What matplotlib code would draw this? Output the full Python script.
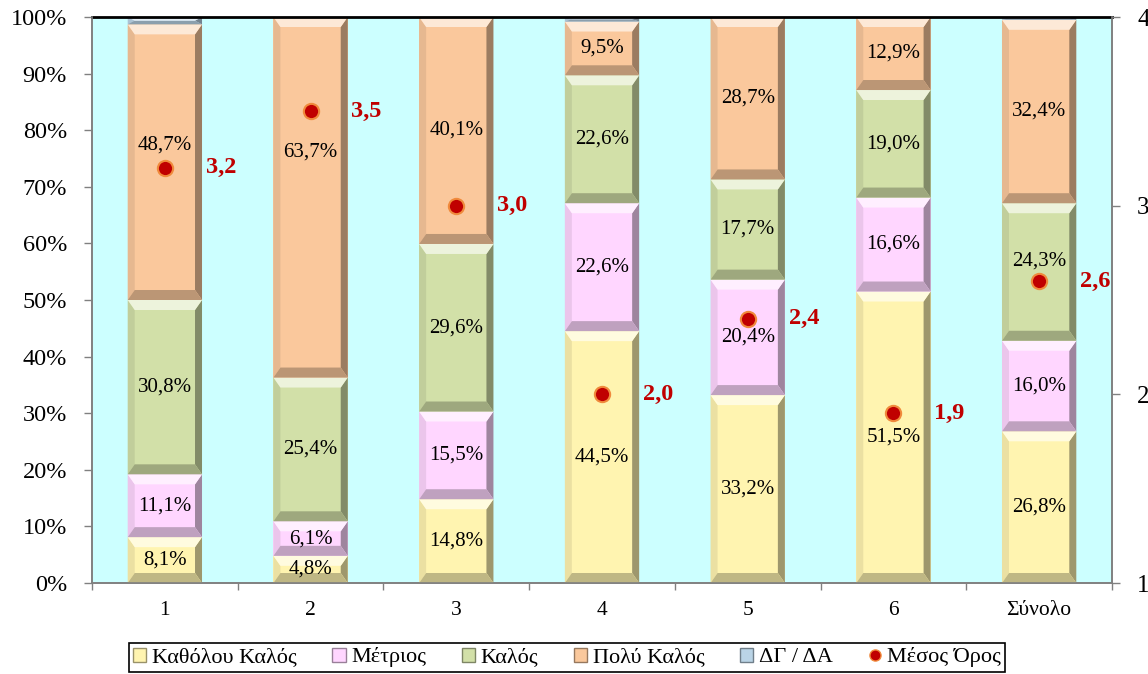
import numpy as np
import matplotlib.pyplot as plt
from matplotlib.patches import Polygon, Patch
from matplotlib.lines import Line2D
from matplotlib.colors import to_rgb

plt.rcParams['font.family'] = ['Liberation Serif', 'DejaVu Serif']

# Données
groupes = ["1", "2", "3", "4", "5", "6", "Σύνολο"]
series = ["Καθόλου Καλός", "Μέτριος", "Καλός", "Πολύ Καλός", "ΔΓ / ΔΑ"]
katholou = [8.1, 4.8, 14.8, 44.5, 33.2, 51.5, 26.8]
metrios = [11.1, 6.1, 15.5, 22.6, 20.4, 16.6, 16.0]
kalos = [30.8, 25.4, 29.6, 22.6, 17.7, 19.0, 24.3]
poly_kalos = [48.7, 63.7, 40.1, 9.5, 28.7, 12.9, 32.4]
dg_da = [1.3, 0.0, 0.0, 0.8, 0.0, 0.0, 0.5]
mesos_oros = [3.2, 3.5, 3.0, 2.0, 2.4, 1.9, 2.6]

couleurs = ["#FFF4B0", "#FFD6FF", "#D2E0A8", "#FAC89C", "#BAD4E6"]
bg = "#CCFFFF"
rouge = "#C00000"

# décalage manuel de quelques étiquettes (en %)
decalage = {(0, 3): 3.0, (1, 3): 8.0, (6, 2): 2.0}

W, H = 1148, 674
fig = plt.figure(figsize=(W / 100, H / 100), dpi=100)
ax = fig.add_axes([92 / W, 91 / H, 1020 / W, 566 / H])
ax.set_facecolor(bg)
ax.set_xlim(-0.5, len(groupes) - 0.5)
ax.set_ylim(0, 100)

x = np.arange(len(groupes))
largeur = 0.51
# taille du biseau en unités de données
bx = 7 / (1020 / len(groupes))
by = 10 / 5.66


def melange(c, autre, t):
    c = np.array(to_rgb(c))
    return tuple(c * (1 - t) + np.array(autre) * t)


def biseau(x0, y0, w, h, c):
    if h <= 0:
        return
    bh = min(by, h / 2)
    bw = min(bx, w / 2)
    x1, y1 = x0 + w, y0 + h
    faces = [
        ([(x0, y0), (x0, y1), (x0 + bw, y1 - bh), (x0 + bw, y0 + bh)], melange(c, (0, 0, 0), 0.08)),
        ([(x1, y0), (x1, y1), (x1 - bw, y1 - bh), (x1 - bw, y0 + bh)], melange(c, (0, 0, 0), 0.38)),
        ([(x0, y0), (x1, y0), (x1 - bw, y0 + bh), (x0 + bw, y0 + bh)], melange(c, (0, 0, 0), 0.25)),
        ([(x0, y1), (x1, y1), (x1 - bw, y1 - bh), (x0 + bw, y1 - bh)], melange(c, (1, 1, 1), 0.6)),
    ]
    for pts, fc in faces:
        ax.add_patch(Polygon(pts, closed=True, facecolor=fc, edgecolor="none", zorder=3))


donnees = [katholou, metrios, kalos, poly_kalos, dg_da]
bas = np.zeros(len(groupes))
for s, (vals, c) in enumerate(zip(donnees, couleurs)):
    vals = np.array(vals)
    barres = ax.bar(x, vals, largeur, bottom=bas, color=c, edgecolor="none", zorder=2)
    for i, b in enumerate(barres):
        biseau(b.get_x(), b.get_y(), b.get_width(), b.get_height(), c)
        if s < 4 and vals[i] > 0:
            yl = bas[i] + vals[i] / 2 + decalage.get((i, s), 0)
            ax.text(x[i], yl, f"{vals[i]:.1f}".replace(".", ",") + "%",
                    ha="center", va="center", fontsize=15, zorder=5)
    bas += vals

# axes
ax.set_yticks(np.arange(0, 101, 10))
ax.set_yticklabels([f"{v}%" for v in range(0, 101, 10)], fontsize=17.5)
ax.tick_params(axis="y", length=6, width=1, color="#808080", pad=12)
ax.set_xticks(x)
ax.set_xticklabels(groupes, fontsize=15.5)
ax.tick_params(axis="x", which="major", length=0, pad=13)
ax.set_xticks(np.arange(-0.5, len(groupes), 1), minor=True)
ax.tick_params(axis="x", which="minor", length=5, width=1, color="#808080")
for sp in ["left", "bottom", "right"]:
    ax.spines[sp].set_color("#808080")
    ax.spines[sp].set_linewidth(1.2)
ax.spines["top"].set_color("black")
ax.spines["top"].set_linewidth(2)
ax.spines["top"].set_zorder(6)

ax2 = ax.twinx()
ax2.set_ylim(1, 4)
ax2.set_yticks([1, 2, 3, 4])
ax2.set_yticklabels(["1", "2", "3", "4"], fontsize=18)
ax2.tick_params(axis="y", length=6, width=1, color="#808080", pad=12)
for sp in ["left", "bottom", "right"]:
    ax2.spines[sp].set_color("#808080")
    ax2.spines[sp].set_linewidth(1.2)
ax2.spines["top"].set_visible(False)
ax2.plot(x, mesos_oros, linestyle="none", marker="o", markersize=11,
         markerfacecolor=rouge, markeredgecolor="#F08A3C", markeredgewidth=1.5, zorder=6)
for i, m in enumerate(mesos_oros):
    ax2.text(x[i] + 0.28, m, f"{m:.1f}".replace(".", ","), ha="left", va="center",
             fontsize=17.5, fontweight="bold", color=rouge, zorder=7)

# légende
poignees = [Patch(facecolor=c, edgecolor=melange(c, (0, 0, 0), 0.4), linewidth=1) for c in couleurs]
poignees.append(Line2D([], [], linestyle="none", marker="o", markersize=8,
                       markerfacecolor=rouge, markeredgecolor="#F08A3C"))
leg = fig.legend(poignees, series + ["Μέσος Όρος"], loc="upper center",
                 bbox_to_anchor=(567 / W, 1 - 643 / H), ncol=6, fontsize=16,
                 frameon=True, fancybox=False, edgecolor="black", framealpha=1,
                 handlelength=0.6, handleheight=0.6, handletextpad=0.25,
                 columnspacing=1.6, borderpad=0.2, borderaxespad=0)
leg.get_frame().set_linewidth(1.2)

fig.savefig("out.png", dpi=100)
